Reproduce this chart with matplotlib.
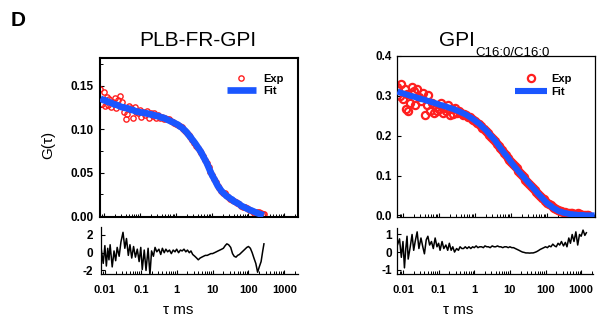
#!/usr/bin/env python3
"""Panel D: FCS autocorrelation curves (Exp + Fit) with residuals below."""

import matplotlib
matplotlib.use("Agg")
import matplotlib.pyplot as plt
from matplotlib.ticker import FixedLocator, FixedFormatter, LogLocator, MultipleLocator, NullFormatter

plt.rcParams["font.family"] = ["Liberation Sans", "DejaVu Sans"]
plt.rcParams["axes.unicode_minus"] = False

RED = "#ff1f1f"
BLUE = "#1a56ff"

x_ticks = [0.01, 0.1, 1, 10, 100, 1000]
x_tick_labels = ["0.01", "0.1", "1", "10", "100", "1000"]

# ---- PLB-FR-GPI ----
tau_a = [
    0.008, 0.009, 0.010, 0.011, 0.012, 0.013, 0.014, 0.016, 0.018, 0.020,
    0.022, 0.025, 0.028, 0.032, 0.036, 0.040, 0.045, 0.050, 0.056, 0.063,
    0.071, 0.080, 0.090, 0.10, 0.11, 0.125, 0.14, 0.16, 0.18, 0.20,
    0.225, 0.25, 0.28, 0.32, 0.36, 0.40, 0.45, 0.50, 0.56, 0.63,
    0.71, 0.80, 0.90, 1.0, 1.13, 1.27, 1.42, 1.6, 1.8, 2.0,
    2.25, 2.5, 2.8, 3.2, 3.6, 4.0, 4.5, 5.0, 5.6, 6.3,
    7.1, 8.0, 9.0, 10, 11.3, 12.7, 14.2, 16, 18, 20,
    22.5, 25, 28, 32, 36, 40, 45, 50, 56, 63,
    71, 80, 90, 100, 113, 127, 142, 160, 180, 200,
    225, 250, 270,
]
g_fit_a = [
    0.135, 0.134, 0.133, 0.133, 0.132, 0.131, 0.131, 0.130, 0.129, 0.128,
    0.128, 0.127, 0.126, 0.125, 0.125, 0.124, 0.124, 0.123, 0.122, 0.122,
    0.121, 0.120, 0.120, 0.119, 0.119, 0.119, 0.118, 0.118, 0.117, 0.117,
    0.116, 0.116, 0.115, 0.115, 0.114, 0.113, 0.113, 0.112, 0.111, 0.110,
    0.109, 0.108, 0.107, 0.106, 0.105, 0.103, 0.102, 0.100, 0.098, 0.096,
    0.093, 0.091, 0.088, 0.085, 0.082, 0.079, 0.076, 0.073, 0.069, 0.065,
    0.061, 0.056, 0.051, 0.047, 0.043, 0.039, 0.035, 0.032, 0.029, 0.027,
    0.025, 0.023, 0.022, 0.020, 0.019, 0.017, 0.016, 0.015, 0.014, 0.012,
    0.011, 0.010, 0.0088, 0.0080, 0.0070, 0.0062, 0.0053, 0.0044, 0.0035, 0.0028,
    0.0020, 0.0014, 0.0010,
]
g_exp_a = [
    0.146, 0.129, 0.142, 0.127, 0.137, 0.128, 0.134, 0.125, 0.131, 0.136,
    0.124, 0.133, 0.138, 0.131, 0.120, 0.111, 0.117, 0.126, 0.124, 0.113,
    0.125, 0.120, 0.118, 0.122, 0.114, 0.120, 0.116, 0.121, 0.113, 0.118,
    0.115, 0.118, 0.113, 0.116, 0.113, 0.114, 0.112, 0.113, 0.111, 0.111,
    0.109, 0.108, 0.107, 0.106, 0.105, 0.103, 0.102, 0.100, 0.098, 0.096,
    0.093, 0.091, 0.087, 0.084, 0.081, 0.078, 0.075, 0.072, 0.069, 0.065,
    0.061, 0.056, 0.051, 0.047, 0.043, 0.039, 0.035, 0.032, 0.029, 0.027,
    0.026, 0.024, 0.022, 0.020, 0.018, 0.017, 0.016, 0.015, 0.014, 0.012,
    0.011, 0.010, 0.009, 0.008, 0.007, 0.006, 0.004, 0.004, 0.005, 0.005,
    0.004, 0.003, 0.002,
]
res_a = [
    0.3, -1.2, 0.8, -1.5, 0.5, -0.8, 0.9, -1.6, 0.2, -0.9,
    0.6, -0.4, 1.2, 2.3, 0.5, 1.6, -0.3, 0.9, -0.6, 0.7,
    -0.5, 0.4, -1.0, 0.6, -1.9, 0.3, -2.0, 0.5, -2.5, 0.2,
    -0.4, 0.6, 0.1, 0.4, -0.2, 0.5, 0.0, 0.4, 0.1, 0.3,
    -0.1, 0.3, 0.1, 0.4, 0.0, 0.3, 0.2, 0.4, 0.1, 0.3,
    0.0, 0.2, -0.2, -0.4, -0.6, -0.8, -0.6, -0.5, -0.4, -0.3,
    -0.3, -0.2, -0.1, -0.1, 0.0, 0.1, 0.2, 0.3, 0.4, 0.5,
    0.8, 1.0, 0.9, 0.6, -0.1, -0.4, -0.5, -0.3, -0.2, 0.0,
    0.2, 0.4, 0.6, 0.7, 0.5, 0.0, -0.6, -1.2, -2.2, -1.6,
    -1.0, 0.2, 1.0,
]

# ---- GPI C16:0/C16:0 ----
tau_b = [
    0.007, 0.008, 0.009, 0.010, 0.011, 0.012, 0.013, 0.014, 0.016, 0.018,
    0.020, 0.022, 0.025, 0.028, 0.032, 0.036, 0.040, 0.045, 0.050, 0.056,
    0.063, 0.071, 0.080, 0.090, 0.10, 0.11, 0.125, 0.14, 0.16, 0.18,
    0.20, 0.225, 0.25, 0.28, 0.32, 0.36, 0.40, 0.45, 0.50, 0.56,
    0.63, 0.71, 0.80, 0.90, 1.0, 1.13, 1.27, 1.42, 1.6, 1.8,
    2.0, 2.25, 2.5, 2.8, 3.2, 3.6, 4.0, 4.5, 5.0, 5.6,
    6.3, 7.1, 8.0, 9.0, 10, 11.3, 12.7, 14.2, 16, 18,
    20, 22.5, 25, 28, 32, 36, 40, 45, 50, 56,
    63, 71, 80, 90, 100, 113, 127, 142, 160, 180,
    200, 225, 250, 280, 320, 360, 400, 450, 500, 560,
    630, 710, 800, 900, 1000, 1130, 1270, 1400, 1700, 2100,
]
g_fit_b = [
    0.311, 0.309, 0.307, 0.306, 0.305, 0.304, 0.303, 0.302, 0.300, 0.299,
    0.298, 0.297, 0.295, 0.294, 0.292, 0.291, 0.290, 0.288, 0.287, 0.286,
    0.284, 0.283, 0.281, 0.280, 0.278, 0.277, 0.276, 0.274, 0.273, 0.271,
    0.270, 0.268, 0.267, 0.265, 0.263, 0.261, 0.259, 0.257, 0.255, 0.253,
    0.250, 0.247, 0.244, 0.241, 0.238, 0.234, 0.231, 0.227, 0.222, 0.218,
    0.214, 0.209, 0.204, 0.199, 0.193, 0.188, 0.182, 0.176, 0.170, 0.164,
    0.158, 0.152, 0.146, 0.140, 0.134, 0.128, 0.122, 0.117, 0.111, 0.106,
    0.101, 0.096, 0.091, 0.086, 0.080, 0.075, 0.070, 0.065, 0.060, 0.055,
    0.050, 0.045, 0.040, 0.035, 0.031, 0.027, 0.024, 0.020, 0.017, 0.015,
    0.012, 0.010, 0.009, 0.007, 0.006, 0.005, 0.004, 0.003, 0.003, 0.002,
    0.002, 0.001, 0.001, 0.001, 0.001, 0.000, 0.000, 0.000, 0.000, 0.000,
]
g_exp_b = [
    0.322, 0.300, 0.329, 0.292, 0.318, 0.268, 0.305, 0.262, 0.283, 0.321,
    0.313, 0.278, 0.318, 0.296, 0.287, 0.308, 0.251, 0.276, 0.302, 0.262,
    0.283, 0.258, 0.271, 0.262, 0.267, 0.281, 0.258, 0.270, 0.262, 0.277,
    0.252, 0.266, 0.255, 0.269, 0.258, 0.262, 0.258, 0.252, 0.254, 0.251,
    0.247, 0.246, 0.242, 0.240, 0.236, 0.233, 0.229, 0.225, 0.220, 0.216,
    0.212, 0.207, 0.202, 0.197, 0.191, 0.186, 0.180, 0.175, 0.169, 0.163,
    0.157, 0.151, 0.145, 0.140, 0.134, 0.129, 0.123, 0.118, 0.112, 0.107,
    0.101, 0.096, 0.090, 0.085, 0.079, 0.073, 0.068, 0.063, 0.058, 0.053,
    0.049, 0.044, 0.040, 0.036, 0.032, 0.028, 0.025, 0.022, 0.019, 0.017,
    0.014, 0.012, 0.011, 0.009, 0.008, 0.007, 0.006, 0.005, 0.005, 0.004,
    0.004, 0.005, 0.003, 0.002, 0.002, 0.001, 0.002, 0.001,
]
res_b = [
    0.4, 0.75, -0.3, 0.6, -0.9, 0.2, 0.9, -0.4, 0.3, 1.0,
    0.1, 0.6, 1.15, 0.2, 0.8, 0.3, -0.1, 0.7, 0.9, 0.4,
    0.6, 0.2, 0.8, 0.3, 0.5, 0.1, 0.6, 0.2, 0.4, 0.1,
    0.5, 0.1, 0.3, 0.0, 0.2, 0.1, 0.3, 0.2, 0.2, 0.3,
    0.2, 0.3, 0.2, 0.3, 0.25, 0.35, 0.25, 0.3, 0.3, 0.25,
    0.35, 0.3, 0.3, 0.25, 0.35, 0.3, 0.3, 0.35, 0.3, 0.3,
    0.25, 0.3, 0.3, 0.25, 0.3, 0.25, 0.25, 0.2, 0.15, 0.1,
    0.05, 0.0, -0.02, -0.05, -0.05, -0.06, -0.05, -0.05, -0.02, 0.02,
    0.08, 0.15, 0.2, 0.25, 0.3, 0.25, 0.35, 0.3, 0.45, 0.35,
    0.3, 0.5, 0.4, 0.6, 0.35, 0.55, 0.3, 0.8, 0.5, 1.0,
    0.6, 1.15, 0.4, 1.0, 0.9, 1.25, 0.95, 1.1,
]

W, H = 598, 322


def px_rect(x0, y0, x1, y1):
    # pixel box (top-left origin) -> figure fraction rect
    return [x0 / W, 1 - y1 / H, (x1 - x0) / W, (y1 - y0) / H]


def style_log_x(ax, xlim, show_labels):
    ax.set_xscale("log")
    ax.set_xlim(xlim)
    ax.xaxis.set_major_locator(FixedLocator(x_ticks))
    ax.xaxis.set_minor_locator(LogLocator(base=10, subs=range(2, 10), numticks=20))
    ax.xaxis.set_minor_formatter(NullFormatter())
    if show_labels:
        ax.xaxis.set_major_formatter(FixedFormatter(x_tick_labels))
    else:
        ax.xaxis.set_major_formatter(NullFormatter())


def draw_panel(fig, p):
    ax = fig.add_axes(px_rect(*p["main_box"]))
    n = len(p["g_exp"])
    exp_line, = ax.plot(p["tau"][:n], p["g_exp"], "o", mfc="none", mec=RED,
                        ms=p["ms"], mew=p["mew"], zorder=2)
    fit_line, = ax.plot(p["tau"], p["g_fit"], "-", color=BLUE, lw=p["fit_lw"],
                        solid_capstyle="butt", zorder=3)
    style_log_x(ax, p["xlim"], False)
    ax.set_ylim(p["ylim"])
    ax.set_yticks(p["yticks"])
    ax.set_yticklabels(p["ytick_labels"])
    if p["yminor"]:
        ax.yaxis.set_minor_locator(MultipleLocator(p["yminor"]))
    ax.tick_params(which="major", direction="in", length=3, width=0.8, pad=p["ypad"],
                   labelsize=8.5)
    ax.tick_params(which="minor", direction="in", length=2, width=0.7)
    for s in ax.spines.values():
        s.set_linewidth(p["spine_lw"])
    for t in ax.get_yticklabels():
        t.set_fontweight("bold")

    leg = ax.legend([exp_line, fit_line], ["Exp", "Fit"], loc="upper left",
                    bbox_to_anchor=p["leg_xy"], frameon=False, fontsize=8,
                    borderaxespad=0, borderpad=0, numpoints=1,
                    handlelength=p["handlelength"], handletextpad=p["handletextpad"],
                    labelspacing=p["labelspacing"])
    for t in leg.get_texts():
        t.set_fontweight("bold")

    rx = fig.add_axes(px_rect(*p["res_box"]))
    m = len(p["res"])
    rx.plot(p["tau"][:m], p["res"], color="black", lw=1.1)
    style_log_x(rx, p["xlim"], True)
    rx.set_ylim(p["res_ylim"])
    rx.set_yticks(p["res_yticks"])
    rx.set_yticklabels([str(v) for v in p["res_yticks"]])
    rx.spines["top"].set_visible(False)
    rx.spines["right"].set_visible(False)
    for s in ("left", "bottom"):
        rx.spines[s].set_linewidth(0.9)
    rx.tick_params(axis="x", which="major", direction="in", length=3, width=0.8, pad=8,
                   labelsize=8)
    rx.tick_params(axis="x", which="minor", direction="in", length=2, width=0.7)
    rx.tick_params(axis="y", direction="in", length=3, width=0.8, pad=p["res_ypad"],
                   labelsize=8.5)
    for t in rx.get_xticklabels() + rx.get_yticklabels():
        t.set_fontweight("bold")
    return ax, rx


def main() -> None:
    fig = plt.figure(figsize=(W / 100, H / 100), dpi=100)

    panels = [
        dict(tau=tau_a, g_exp=g_exp_a, g_fit=g_fit_a, res=res_a,
             main_box=(100, 58, 298, 217), res_box=(101, 227, 298, 274),
             xlim=(0.0078, 2400), ylim=(-0.001, 0.1816),
             yticks=[0.0, 0.05, 0.10, 0.15], ytick_labels=["0.00", "0.05", "0.10", "0.15"],
             yminor=0.025, ypad=4.5, res_ylim=(-2.4, 2.9), res_yticks=[-2, 0, 2], res_ypad=6,
             ms=3.8, mew=1.0, fit_lw=4.8, spine_lw=1.5,
             leg_xy=(0.64, 0.897), handlelength=2.64, handletextpad=0.63, labelspacing=0.15),
        dict(tau=tau_b, g_exp=g_exp_b, g_fit=g_fit_b, res=res_b,
             main_box=(397, 56, 595, 217), res_box=(397, 228, 593, 274),
             xlim=(0.0068, 2150), ylim=(-0.004, 0.4),
             yticks=[0.0, 0.1, 0.2, 0.3, 0.4], ytick_labels=["0.0", "0.1", "0.2", "0.3", "0.4"],
             yminor=None, ypad=3.6, res_ylim=(-1.25, 1.37), res_yticks=[-1, 0, 1], res_ypad=3.4,
             ms=5.2, mew=1.6, fit_lw=4.4, spine_lw=0.9,
             leg_xy=(0.596, 0.89), handlelength=2.88, handletextpad=0.36, labelspacing=0.3),
    ]
    for p in panels:
        draw_panel(fig, p)

    fig.text(18 / W, 1 - 21 / H, "D", fontsize=15, fontweight="bold", ha="center", va="center")
    fig.text(198 / W, 1 - 40 / H, "PLB-FR-GPI", fontsize=15, ha="center", va="center")
    fig.text(475 / W, 1 - 40.5 / H, "GPI", fontsize=15, ha="right", va="center")
    fig.text(475 / W, 1 - 53.5 / H, "C16:0/C16:0", fontsize=9.5, ha="left", va="center")
    fig.text(48 / W, 1 - 145 / H, "G(τ)", fontsize=11, rotation=90, ha="center", va="center")
    fig.text(178 / W, 1 - 310 / H, "τ ms", fontsize=11, ha="center", va="center")
    fig.text(458 / W, 1 - 310 / H, "τ ms", fontsize=11, ha="center", va="center")

    fig.savefig("out.png", dpi=100)
    plt.close(fig)


if __name__ == "__main__":
    main()
